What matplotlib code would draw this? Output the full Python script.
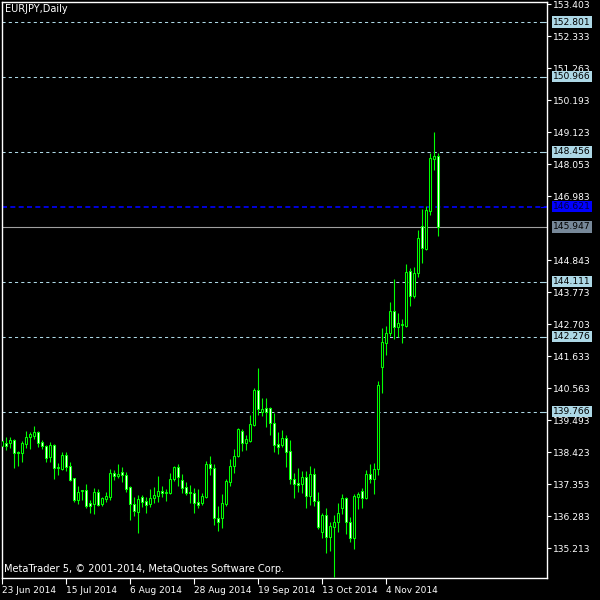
import matplotlib
matplotlib.use("Agg")
import matplotlib.pyplot as plt
import matplotlib.transforms as mtransforms
from matplotlib.patches import Rectangle
import pandas as pd

# ─────────────────────────────────────────────
# Data: EURJPY daily bars
# ─────────────────────────────────────────────
symbol_title = "EURJPY,Daily"
first_date = "2014-06-23"

opens = [
    138.62, 138.72, 138.72, 138.82, 138.42, 138.39, 138.69, 138.92, 138.96, 139.09,
    138.76, 138.62, 138.26, 138.66, 137.92, 137.86, 138.32, 137.96, 137.55, 136.82,
    137.12, 137.16, 136.72, 136.69, 137.09, 136.69, 136.85, 136.92, 137.72, 137.62,
    137.76, 137.66, 137.25, 136.69, 136.42, 136.92, 136.79, 136.69, 136.89, 136.95,
    137.12, 137.05, 137.05, 137.52, 137.92, 137.49, 137.25, 137.09, 137.05, 136.75,
    136.72, 136.92, 138.02, 137.89, 136.22, 136.22, 136.69, 137.42, 137.96, 138.29,
    139.13, 138.72, 138.79, 139.33, 140.50, 139.76, 139.90, 139.90, 139.39, 138.69,
    138.66, 138.89, 138.46, 137.52, 137.39, 137.36, 137.59, 136.95, 137.69, 136.79,
    135.75, 136.32, 135.58, 135.92, 136.08, 136.55, 136.89, 136.08, 135.55, 136.92,
    137.12, 136.89, 137.69, 137.52, 137.86, 141.27, 142.07, 142.40, 143.14, 142.60,
    142.67, 142.64, 144.47, 143.64, 144.41, 145.98, 145.21, 146.48, 148.22, 148.32,
]
highs = [
    138.86, 138.92, 138.92, 138.86, 138.46, 138.79, 139.13, 139.09, 139.29, 139.13,
    138.82, 138.66, 138.76, 138.69, 138.06, 138.42, 138.42, 138.09, 137.57, 137.29,
    137.16, 137.36, 136.82, 137.22, 137.19, 136.92, 137.09, 137.86, 137.82, 138.02,
    137.92, 137.76, 137.29, 136.92, 136.99, 136.99, 136.92, 137.19, 137.25, 137.62,
    137.29, 137.19, 137.72, 137.96, 138.02, 137.69, 137.42, 137.32, 137.22, 137.19,
    137.05, 138.12, 138.29, 138.02, 136.62, 137.02, 137.52, 138.19, 138.52, 139.21,
    139.19, 138.99, 139.66, 140.56, 141.23, 140.23, 140.23, 139.92, 139.73, 139.09,
    139.16, 138.99, 138.82, 137.72, 137.89, 137.79, 137.79, 137.96, 137.89, 137.09,
    136.39, 136.55, 136.08, 136.32, 136.72, 137.02, 136.92, 136.25, 137.02, 137.09,
    137.22, 137.82, 138.02, 138.06, 140.80, 142.57, 142.64, 143.44, 144.21, 143.07,
    142.87, 144.71, 144.58, 144.61, 145.85, 146.55, 146.65, 148.42, 149.12, 148.42,
]
lows = [
    138.56, 138.49, 138.56, 137.89, 137.96, 138.09, 138.56, 138.52, 138.86, 138.59,
    138.52, 138.09, 138.09, 137.52, 137.66, 137.82, 137.79, 137.45, 136.75, 136.69,
    136.82, 136.55, 136.39, 136.35, 136.62, 136.62, 136.75, 136.82, 137.49, 137.55,
    137.42, 137.09, 136.15, 136.29, 135.71, 136.59, 136.39, 136.59, 136.72, 136.75,
    136.92, 136.79, 137.02, 137.45, 137.29, 137.05, 136.99, 136.72, 136.39, 136.55,
    136.65, 136.90, 137.66, 135.98, 135.78, 135.88, 136.62, 137.29, 137.72, 138.26,
    138.46, 138.49, 138.76, 139.29, 139.66, 139.63, 139.26, 138.99, 138.42, 138.36,
    138.59, 137.92, 137.36, 136.89, 137.09, 137.05, 136.55, 136.65, 136.62, 135.85,
    135.55, 135.05, 135.11, 134.24, 135.75, 136.35, 135.68, 135.41, 135.18, 136.52,
    136.55, 136.85, 137.39, 137.02, 137.66, 140.40, 141.67, 142.30, 142.20, 142.27,
    142.07, 142.60, 143.30, 143.57, 144.27, 144.74, 145.18, 146.35, 147.85, 145.65,
]
closes = [
    138.79, 138.62, 138.82, 138.39, 138.39, 138.72, 138.92, 139.02, 139.09, 138.72,
    138.62, 138.22, 138.66, 137.89, 137.89, 138.32, 137.92, 137.49, 136.82, 137.09,
    137.16, 136.62, 136.62, 137.09, 136.65, 136.89, 136.95, 137.72, 137.62, 137.69,
    137.66, 137.19, 136.69, 136.45, 136.85, 136.75, 136.65, 136.89, 136.99, 137.12,
    137.05, 137.09, 137.52, 137.92, 137.59, 137.22, 137.05, 137.05, 136.72, 136.65,
    136.95, 138.02, 137.89, 136.22, 136.08, 136.72, 137.45, 137.96, 138.29, 139.19,
    138.72, 138.86, 139.36, 140.50, 139.86, 139.86, 139.76, 139.39, 138.66, 138.59,
    138.89, 138.42, 137.52, 137.36, 137.32, 137.59, 136.95, 137.69, 136.79, 135.92,
    136.32, 135.58, 135.95, 136.08, 136.39, 136.89, 136.08, 135.55, 136.95, 137.02,
    136.89, 137.69, 137.52, 137.86, 140.66, 142.10, 142.40, 143.14, 142.60, 142.74,
    142.69, 144.44, 143.64, 144.41, 145.58, 145.25, 146.52, 148.25, 148.32, 145.947,
]

# price scale ticks (145.913 is hidden behind the bid box in the terminal)
price_ticks = [153.403, 152.333, 151.263, 150.193, 149.123, 148.053, 146.983,
               144.843, 143.773, 142.703, 141.633, 140.563, 139.493, 138.423, 137.353,
               136.283, 135.213]
# horizontal levels
level_values = [152.801, 150.966, 148.456, 144.111, 142.276, 139.766]
blue_level = 146.621
date_step = 16

BG = "#000000"
FG = "#ffffff"
GREEN = "#00ff00"
LEVEL_COL = "#add8e6"
LABEL_FS = 6.6

# ─────────────────────────────────────────────
# Figure
# ─────────────────────────────────────────────
fig = plt.figure(figsize=(6, 6), dpi=100, facecolor=BG)
ax = fig.add_axes([2 / 600, 22 / 600, 545 / 600, 576 / 600])
ax.set_facecolor(BG)

# candles: wick first, then body (white = bearish, black = bullish)
for i, (o, h, l, c) in enumerate(zip(opens, highs, lows, closes)):
    ax.vlines(i, l, h, color=GREEN, lw=0.8, zorder=2)
    bottom = min(o, c)
    height = abs(c - o)
    ax.add_patch(Rectangle((i - 0.25, bottom), 0.5, height,
                           facecolor=FG if c < o else BG,
                           edgecolor=GREEN, lw=0.75, zorder=3))

ax.set_xlim(-0.075, 136.2)
ax.set_ylim(134.21, 153.47)

blend = mtransforms.blended_transform_factory(ax.transAxes, ax.transData)


def price_box(value, face, text_col):
    ax.text(1.011, value, f"{value:.3f}", transform=blend, ha="left", va="center",
            fontsize=LABEL_FS, color=text_col, clip_on=False, zorder=10,
            bbox=dict(boxstyle="square,pad=0.12", fc=face, ec="none"))


# dashed levels + price boxes
for lv in level_values:
    ax.axhline(lv, color=LEVEL_COL, lw=0.75, ls=(0, (3, 3)), zorder=1)
    ax.plot([(541 - 2) / 545, (545 - 2) / 545], [lv, lv], color=LEVEL_COL,
            lw=0.8, transform=blend, clip_on=False, zorder=4)
    price_box(lv, LEVEL_COL, "#000000")

ax.axhline(blue_level, color="#0000ff", lw=1.2, ls=(0, (3, 2)), zorder=1)
ax.plot([(541 - 2) / 545, (545 - 2) / 545], [blue_level, blue_level], color="#0000ff",
        lw=0.8, transform=blend, clip_on=False, zorder=4)
price_box(blue_level, "#0000ff", "#000040")

bid = closes[-1]
ax.axhline(bid, color="#a0a0a0", lw=0.8, zorder=1)
price_box(bid, "#778899", "#000000")

# price axis on the right
ax.yaxis.tick_right()
ax.set_yticks(price_ticks)
ax.set_yticklabels([f"{v:.3f}" for v in price_ticks])
ax.tick_params(axis="y", colors=FG, labelsize=LABEL_FS, length=3, width=0.8, pad=1.5,
               direction="out")

# date axis
dates = pd.bdate_range(first_date, periods=len(closes))
xt = list(range(0, len(closes), date_step))
ax.set_xticks(xt)
ax.set_xticklabels([f"{dates[k].day} {dates[k]:%b %Y}" for k in xt], ha="left")
ax.tick_params(axis="x", colors=FG, labelsize=6.5, length=4, width=0.8, pad=1.5,
               direction="out")

for spine in ax.spines.values():
    spine.set_edgecolor(FG)
    spine.set_linewidth(1.0)

fig.text(5 / 600, 1 - 9 / 600, symbol_title, color=FG, fontsize=7, va="center", ha="left")
fig.text(4 / 600, 1 - 569 / 600, "MetaTrader 5, © 2001-2014, MetaQuotes Software Corp.",
         color=FG, fontsize=7.1, va="center", ha="left")

fig.savefig("out.png", dpi=100, facecolor=BG)
